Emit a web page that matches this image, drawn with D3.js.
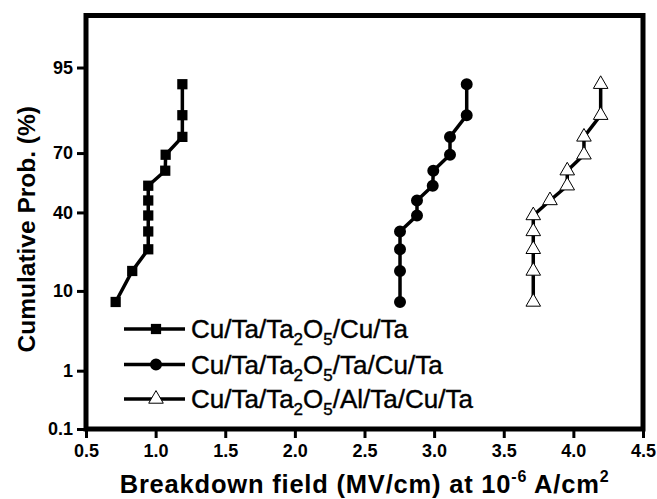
<!DOCTYPE html>
<html>
<head>
<meta charset="utf-8">
<script src="https://cdn.jsdelivr.net/npm/d3@7"></script>
<style>
  body { margin: 0; background: #fff; }
  svg { display: block; }
  text { font-family: "Liberation Sans", Arial, sans-serif; fill: #000; }
</style>
</head>
<body>
<svg id="chart" width="657" height="499"></svg>
<script>
// Cumulative failure probability (%) for the ranked samples, shared by all stacks
const cumProb = [7.69, 15.38, 23.08, 30.77, 38.46, 46.15, 53.85, 61.54, 69.23, 76.92, 84.62, 92.31];

// Breakdown field (MV/cm) at 1e-6 A/cm^2, sorted ascending
const fieldCuTa      = [0.713, 0.832, 0.947, 0.947, 0.947, 0.947, 0.947, 1.069, 1.072, 1.192, 1.192, 1.192];
const fieldTaCuTa    = [2.755, 2.755, 2.755, 2.755, 2.877, 2.877, 2.990, 2.994, 3.114, 3.114, 3.234, 3.234];
const fieldAlTaCuTa  = [3.712, 3.712, 3.712, 3.712, 3.712, 3.832, 3.956, 3.956, 4.076, 4.076, 4.196, 4.196];

const seriesNames = [
  ["Cu/Ta/Ta", "2", "O", "5", "/Cu/Ta"],
  ["Cu/Ta/Ta", "2", "O", "5", "/Ta/Cu/Ta"],
  ["Cu/Ta/Ta", "2", "O", "5", "/Al/Ta/Cu/Ta"]
];
const seriesSymbols = ["square", "circle", "triangle"];

const xTicks = [0.5, 1.0, 1.5, 2.0, 2.5, 3.0, 3.5, 4.0, 4.5];
const yTicks = [0.1, 1, 10, 40, 70, 95];
const yDomainPct = [0.1, 99];

// Inverse of the standard normal CDF (Acklam's rational approximation)
function probit(p) {
  const a = [-3.969683028665376e+01, 2.209460984245205e+02, -2.759285104469687e+02,
             1.383577518672690e+02, -3.066479806614716e+01, 2.506628277459239e+00];
  const b = [-5.447609879822406e+01, 1.615858368580409e+02, -1.556989798598866e+02,
             6.680131188771972e+01, -1.328068155288572e+01];
  const c = [-7.784894002430293e-03, -3.223964580411365e-01, -2.400758277161838e+00,
             -2.549732539343734e+00, 4.374664141464968e+00, 2.938163982698783e+00];
  const d = [7.784695709041462e-03, 3.224671290700398e-01, 2.445134137142996e+00,
             3.754408661907416e+00];
  const pl = 0.02425, ph = 1 - pl;
  let q, r;
  if (p < pl) {
    q = Math.sqrt(-2 * Math.log(p));
    return (((((c[0]*q+c[1])*q+c[2])*q+c[3])*q+c[4])*q+c[5]) /
           ((((d[0]*q+d[1])*q+d[2])*q+d[3])*q+1);
  } else if (p <= ph) {
    q = p - 0.5; r = q * q;
    return (((((a[0]*r+a[1])*r+a[2])*r+a[3])*r+a[4])*r+a[5])*q /
           (((((b[0]*r+b[1])*r+b[2])*r+b[3])*r+b[4])*r+1);
  } else {
    q = Math.sqrt(-2 * Math.log(1 - p));
    return -(((((c[0]*q+c[1])*q+c[2])*q+c[3])*q+c[4])*q+c[5]) /
            ((((d[0]*q+d[1])*q+d[2])*q+d[3])*q+1);
  }
}
const z = pct => probit(pct / 100);

const svg = d3.select("#chart");
const plotLeft = 86, plotRight = 643, plotTop = 15.5, plotBottom = 429;

const x = d3.scaleLinear().domain([0.5, 4.5]).range([plotLeft, plotRight]);
// probability axis: linear in normal quantile
const y = d3.scaleLinear().domain(yDomainPct.map(z)).range([plotBottom, plotTop]);

// axes
const xAxis = d3.axisBottom(x).tickValues(xTicks).tickFormat(d3.format(".1f"))
  .tickSize(9).tickPadding(6);
const yAxis = d3.axisLeft(y).tickValues(yTicks.map(z))
  .tickFormat((d, i) => String(yTicks[i])).tickSize(9).tickPadding(4);

const gx = svg.append("g").attr("transform", `translate(0,${plotBottom})`).call(xAxis);
const gy = svg.append("g").attr("transform", `translate(${plotLeft},0)`).call(yAxis);
[gx, gy].forEach(g => {
  g.select(".domain").remove();
  g.selectAll(".tick line").attr("stroke", "#000").attr("stroke-width", 3);
  g.selectAll(".tick text").attr("font-size", 18).attr("font-weight", "bold")
    .attr("font-family", "'Liberation Sans', Arial, sans-serif").attr("fill", "#000");
});

// frame
svg.append("rect")
  .attr("x", plotLeft).attr("y", plotTop)
  .attr("width", plotRight - plotLeft).attr("height", plotBottom - plotTop)
  .attr("fill", "none").attr("stroke", "#000").attr("stroke-width", 5);

// series
const allSeries = [fieldCuTa, fieldTaCuTa, fieldAlTaCuTa];
const symbolType = { square: d3.symbolSquare, circle: d3.symbolCircle, triangle: d3.symbolTriangle };
const symbolSize = { square: 105, circle: 113, triangle: 92 };

function marker(sel, kind) {
  sel.attr("d", d3.symbol().type(symbolType[kind]).size(symbolSize[kind])())
    .attr("fill", kind === "triangle" ? "#fff" : "#000")
    .attr("stroke", "#000")
    .attr("stroke-width", kind === "triangle" ? 1 : 0);
}

const line = d3.line().x(d => x(d[0])).y(d => y(z(d[1])));

allSeries.forEach((vals, si) => {
  const pts = vals.map((v, i) => [v, cumProb[i]]);
  const g = svg.append("g");
  g.append("path").datum(pts).attr("d", line)
    .attr("fill", "none").attr("stroke", "#000").attr("stroke-width", 3.5);
  g.selectAll("path.pt").data(pts).join("path").attr("class", "pt")
    .attr("transform", d => `translate(${x(d[0])},${y(z(d[1]))})`)
    .call(marker, seriesSymbols[si]);
});

// legend
const legX0 = 124, legX1 = 185, legMark = 156, legText = 191;
const legRows = [329, 364.5, 399];
seriesNames.forEach((parts, i) => {
  const ry = legRows[i];
  const g = svg.append("g");
  g.append("line").attr("x1", legX0).attr("x2", legX1).attr("y1", ry).attr("y2", ry)
    .attr("stroke", "#000").attr("stroke-width", 3.5);
  g.append("path").attr("transform", `translate(${legMark},${ry})`).call(marker, seriesSymbols[i]);
  const t = g.append("text").attr("x", legText).attr("y", ry + 9).attr("font-size", 26)
    .attr("stroke", "#000").attr("stroke-width", 0.4);
  t.append("tspan").text(parts[0]);
  t.append("tspan").attr("font-size", 17).attr("dy", 7).text(parts[1]);
  t.append("tspan").attr("dy", -7).text(parts[2]);
  t.append("tspan").attr("font-size", 17).attr("dy", 7).text(parts[3]);
  t.append("tspan").attr("dy", -7).text(parts[4]);
});

// axis titles
const xt = svg.append("text").attr("x", (plotLeft + plotRight) / 2).attr("y", 493)
  .attr("text-anchor", "middle").attr("font-size", 25.5).attr("font-weight", "bold")
  .attr("letter-spacing", 0.8);
xt.append("tspan").text("Breakdown field (MV/cm) at 10");
xt.append("tspan").attr("font-size", 16).attr("dy", -11).text("-6");
xt.append("tspan").attr("dy", 11).text(" A/cm");
xt.append("tspan").attr("font-size", 16).attr("dy", -11).text("2");

svg.append("text")
  .attr("transform", `translate(35,${(plotTop + plotBottom) / 2 + 7}) rotate(-90)`)
  .attr("text-anchor", "middle").attr("font-size", 24.5).attr("font-weight", "bold")
  .text("Cumulative Prob. (%)");
</script>
</body>
</html>
